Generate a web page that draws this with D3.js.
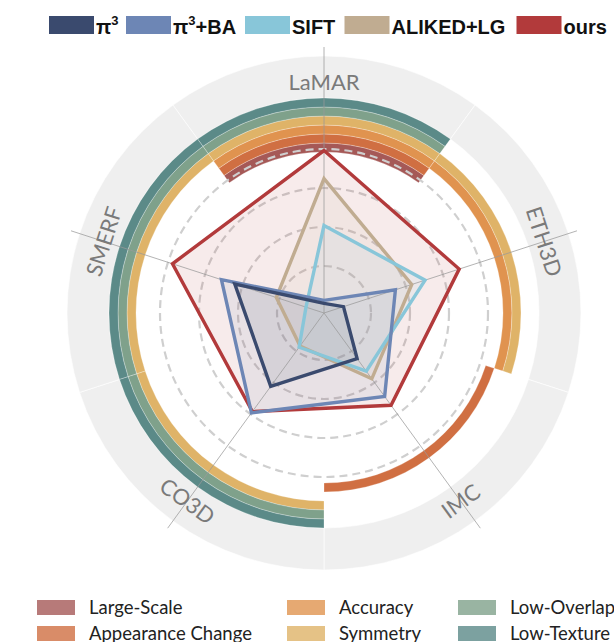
<!DOCTYPE html>
<html><head><meta charset="utf-8">
<script src="https://cdn.jsdelivr.net/npm/d3@7"></script>
<style>html,body{margin:0;padding:0;background:#fff;}svg{display:block;}</style>
</head><body>
<svg id="chart" width="614" height="642"></svg>
<script>
// ---- data ----
const axes = ["LaMAR", "ETH3D", "IMC", "CO3D", "SMERF"];
const methods = ["π³", "π³+BA", "SIFT", "ALIKED+LG", "ours"];
const methodColors = ["#3a4a6e", "#6d86b5", "#88c6d9", "#c0ac91", "#b23a3b"];
const valPi3    = [0.01, 0.08, 0.31, 0.53, 0.55];
const valPi3BA  = [0.03, 0.43, 0.61, 0.74, 0.64];
const valSIFT   = [0.51, 0.63, 0.41, 0.22, 0.07];
const valALIKED = [0.81, 0.54, 0.47, 0.21, 0.27];
const valOurs   = [0.99, 0.86, 0.68, 0.73, 0.97];
const gridLevels = [0.25, 0.5, 0.75, 1.0];
const bandNames = ["Large-Scale", "Appearance Change", "Accuracy", "Symmetry", "Low-Overlap", "Low-Texture"];
const bandColors = ["#a55957", "#d06f42", "#e0934f", "#dfb368", "#7fa18b", "#5b8a88"];
const bandCoverage = [
  ["LaMAR"],
  ["LaMAR", "IMC"],
  ["LaMAR", "ETH3D"],
  ["LaMAR", "ETH3D", "SMERF", "CO3D"],
  ["LaMAR", "SMERF", "CO3D"],
  ["LaMAR", "SMERF", "CO3D"]
];

const series = [valPi3, valPi3BA, valSIFT, valALIKED, valOurs];

// ---- layout ----
const svg = d3.select("#chart");
const cx = 324, cy = 313;
const g = svg.append("g").attr("transform", `translate(${cx},${cy})`);
const r = d3.scaleLinear().domain([0, 1]).range([8, 164]);
const angle = d3.scaleBand().domain(axes).range([0, 2 * Math.PI]).paddingInner(0).paddingOuter(0);
const ang = a => angle(a);
const half = Math.PI / axes.length;
const band = d3.scaleBand().domain(bandNames).range([161, 215]);

// gray outer ring, per sector
const grayArc = d3.arc().innerRadius(215).outerRadius(257);
g.selectAll("path.gray").data(axes).join("path")
  .attr("class", "gray")
  .attr("d", a => grayArc({startAngle: ang(a) - half, endAngle: ang(a) + half}))
  .attr("fill", "#efefef").attr("stroke", "#fff").attr("stroke-width", 0.6);

// coverage bands
const bandData = [];
bandNames.forEach((b, i) => bandCoverage[i].forEach(a => bandData.push({b, i, a})));
const bArc = d3.arc();
g.selectAll("path.band").data(bandData).join("path")
  .attr("class", "band")
  .attr("d", d => bArc({innerRadius: band(d.b), outerRadius: band(d.b) + band.bandwidth(),
                        startAngle: ang(d.a) - half, endAngle: ang(d.a) + half}))
  .attr("fill", d => bandColors[d.i])
  .attr("stroke", "#fff").attr("stroke-opacity", 0.45).attr("stroke-width", 0.6);

// dashed grid circles
g.selectAll("circle.grid").data(gridLevels).join("circle")
  .attr("class", "grid").attr("r", d => r(d))
  .attr("fill", "none").attr("stroke", "#cfcfcf").attr("stroke-width", 2.2)
  .attr("stroke-dasharray", "8,5");

// polygons fills
const radial = d3.lineRadial().angle((d, i) => ang(axes[i])).radius(d => r(d)).curve(d3.curveLinearClosed);
const order = [4, 3, 2, 1, 0];
g.selectAll("path.fill").data(order).join("path")
  .attr("class", "fill")
  .attr("d", k => radial(series[k]))
  .attr("fill", k => methodColors[k]).attr("fill-opacity", 0.1).attr("stroke", "none");

// axis lines
g.selectAll("line.axis").data(axes).join("line")
  .attr("class", "axis")
  .attr("x1", 0).attr("y1", 0)
  .attr("x2", a => 266 * Math.sin(ang(a)))
  .attr("y2", a => -266 * Math.cos(ang(a)))
  .attr("stroke", "#9a9a9a").attr("stroke-opacity", 0.75).attr("stroke-width", 1);

// polygon strokes
g.selectAll("path.line").data(order).join("path")
  .attr("class", "line")
  .attr("d", k => radial(series[k]))
  .attr("fill", "none").attr("stroke", k => methodColors[k]).attr("stroke-width", 3.4)
  .attr("stroke-linejoin", "miter");

// axis labels
g.selectAll("text.axlab").data(axes).join("text")
  .attr("class", "axlab")
  .attr("transform", a => {
    const t = ang(a), rr = 232;
    const x = rr * Math.sin(t), y = -rr * Math.cos(t);
    let deg = t * 180 / Math.PI;
    if (deg > 90 && deg <= 270) deg -= 180; else if (deg > 270) deg -= 360;
    return `translate(${x},${y}) rotate(${deg})`;
  })
  .attr("text-anchor", "middle").attr("dominant-baseline", "central")
  .attr("font-family", "Lato, 'Open Sans', sans-serif").attr("font-size", 22)
  .attr("fill", "#7a7a7a")
  .text(a => a);

// top legend
const topX = [49, 126, 245, 344.5, 516.5];
const tl = svg.append("g");
methods.forEach((m, i) => {
  tl.append("rect").attr("x", topX[i]).attr("y", 16).attr("width", 45).attr("height", 18)
    .attr("fill", methodColors[i]);
  const t = tl.append("text").attr("x", topX[i] + 47).attr("y", 34)
    .attr("font-family", "'Liberation Sans', Arial, sans-serif").attr("font-weight", "bold")
    .attr("font-size", 20).attr("fill", "#111");
  if (m.startsWith("π³")) {
    t.append("tspan").text("π");
    t.append("tspan").attr("font-size", 13).attr("dy", -9).text("3");
    const rest = m.slice(2);
    if (rest) t.append("tspan").attr("dy", 9).text(rest);
  } else t.text(m);
});

// bottom legend
const colX = [37, 287, 458];
const rowY = [600, 626];
const bl = svg.append("g");
bandNames.forEach((b, i) => {
  const c = Math.floor(i / 2), rw = i % 2;
  bl.append("rect").attr("x", colX[c]).attr("y", rowY[rw]).attr("width", 38).attr("height", 15)
    .attr("fill", bandColors[i]).attr("fill-opacity", 0.8);
  bl.append("text").attr("x", colX[c] + 52).attr("y", rowY[rw] + 14)
    .attr("font-family", "Lato, sans-serif").attr("font-size", 18.5).attr("fill", "#222")
    .text(b);
});
</script>
</body></html>
